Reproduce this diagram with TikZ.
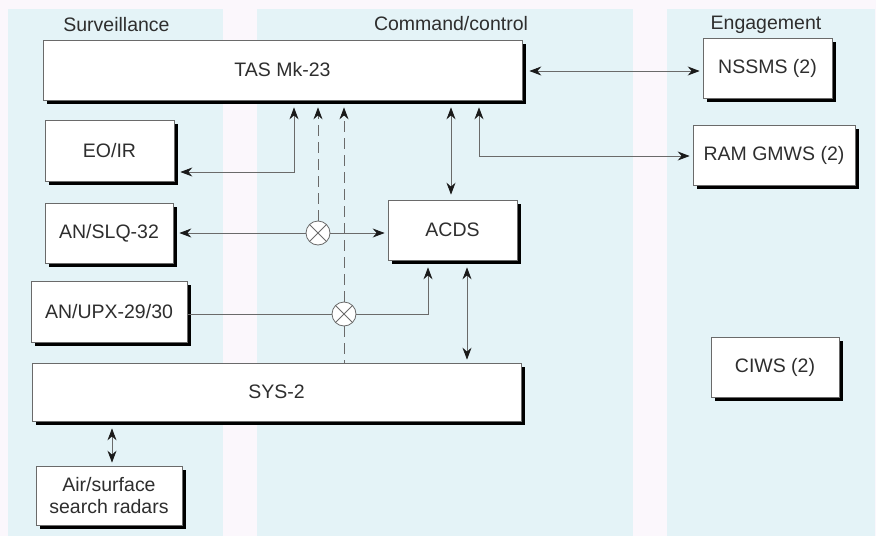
\documentclass[tikz,border=0pt]{standalone}
\usepackage{fontspec}
\setmainfont{Liberation Sans}
\usetikzlibrary{arrows.meta,shadows,calc}
\definecolor{bgpink}{HTML}{FBF7FC}
\definecolor{panelblue}{HTML}{E4F3F7}
\definecolor{linegray}{HTML}{6A6A6A}
\definecolor{tipgray}{HTML}{1A1A1A}
\definecolor{txtgray}{HTML}{2E2E2E}
\tikzset{
  box/.style={draw=linegray, line width=0.7pt, fill=white, rectangle, inner sep=0pt,
    text=txtgray, align=center, font=\fontsize{19.5}{22}\selectfont,
    drop shadow={shadow xshift=4pt, shadow yshift=-4pt, opacity=1, fill=black}},
  conn/.style={draw=linegray, line width=0.8pt},
  tip/.tip={Stealth[length=12pt, width=9pt, inset=4pt, color=tipgray]},
  dashline/.style={conn, dash pattern=on 11pt off 6pt},
  xcirc/.style={circle, draw=linegray, line width=0.8pt, fill=white, minimum size=24pt, inner sep=0pt,
    path picture={\draw[linegray, line width=0.8pt]
      (path picture bounding box.north west) -- (path picture bounding box.south east)
      (path picture bounding box.north east) -- (path picture bounding box.south west);}},
  header/.style={anchor=base, text=txtgray, font=\fontsize{19.5}{22}\selectfont}
}
\begin{document}
\begin{tikzpicture}[x=1pt,y=-1pt]
\useasboundingbox (0,0) rectangle (876,536);
\fill[bgpink] (0,0) rectangle (876,536);
\fill[panelblue] (8,9) rectangle (223,536);
\fill[panelblue] (257,9) rectangle (633,536);
\fill[panelblue] (667,9) rectangle (875,536);

\node[header] (hsurv) at (116.5,31) {Surveillance};
\node[header] (hcmd) at (451,30) {Command/control};
\node[header] (heng) at (766,29) {Engagement};

\node[box, minimum width=479pt, minimum height=60pt] (tas) at (282.5,70) {TAS Mk-23};
\node[box, minimum width=129pt, minimum height=60pt] (nssms) at (767.5,68) {NSSMS (2)};
\node[box, minimum width=162pt, minimum height=60pt] (ram) at (774,155) {RAM GMWS (2)};
\node[box, minimum width=129pt, minimum height=61pt] (eoir) at (109.5,150.5) {EO/IR};
\node[box, minimum width=128pt, minimum height=60pt] (slq) at (109,233) {AN/SLQ-32};
\node[box, minimum width=129pt, minimum height=60pt] (acds) at (452.5,230) {ACDS};
\node[box, minimum width=156pt, minimum height=61pt] (upx) at (109,311.5) {AN/UPX-29/30};
\node[box, minimum width=489pt, minimum height=58pt] (sys) at (276.5,392) {SYS-2};
\node[box, minimum width=146pt, minimum height=59pt] (radar) at (109,495.5) {Air/surface\\search radars};
\node[box, minimum width=128pt, minimum height=60pt] (ciws) at (775,367) {CIWS (2)};

\node[xcirc] (c1) at (318,233) {};
\node[xcirc] (c2) at (344,314) {};

\coordinate (j1) at (294,172);
\coordinate (j2) at (428,314);
\coordinate (j3) at (479,156);
\coordinate (k1) at (451,150);
\coordinate (k2) at (467,300);
\coordinate (k3) at (112,440);
\coordinate (k4) at (600,71);

% TAS <-> NSSMS
\draw[conn, tip-tip, shorten <=7pt, shorten >=3pt] (tas.east |- k4) -- (k4 -| nssms.west);
% EO/IR <-> TAS
\draw[conn, tip-tip, shorten <=6pt, shorten >=7pt] (eoir.east |- j1) -- (j1) -- (j1 |- tas.south);
% dashed lines
\draw[dashline, -tip, shorten >=7pt] (c1.north) -- (c1 |- tas.south);
\draw[dashline] (c2.south) -- (c2 |- sys.north);
\draw[dashline, -tip, shorten >=7pt] (c2.north) -- (c2 |- tas.south);
% SLQ <-> ACDS through c1
\draw[conn, tip-, shorten <=6pt] (slq.east |- c1) -- (c1.west);
\draw[conn, -tip, shorten >=3pt] (c1.east) -- (c1 -| acds.west);
% UPX -> ACDS through c2
\draw[conn] (upx.east |- c2) -- (c2.west);
\draw[conn, -tip, shorten >=7pt] (c2.east) -- (j2) -- (j2 |- acds.south);
% TAS <-> ACDS
\draw[conn, tip-tip, shorten <=7pt, shorten >=5pt] (k1 |- tas.south) -- (k1 |- acds.north);
% ACDS <-> SYS-2
\draw[conn, tip-tip, shorten <=7pt, shorten >=3pt] (k2 |- acds.south) -- (k2 |- sys.north);
% TAS <-> RAM GMWS
\draw[conn, tip-tip, shorten <=7pt, shorten >=3pt] (j3 |- tas.south) -- (j3) -- (j3 -| ram.west);
% SYS-2 <-> radars
\draw[conn, tip-tip, shorten <=7pt, shorten >=3pt] (k3 |- sys.south) -- (k3 |- radar.north);
\end{tikzpicture}
\end{document}
